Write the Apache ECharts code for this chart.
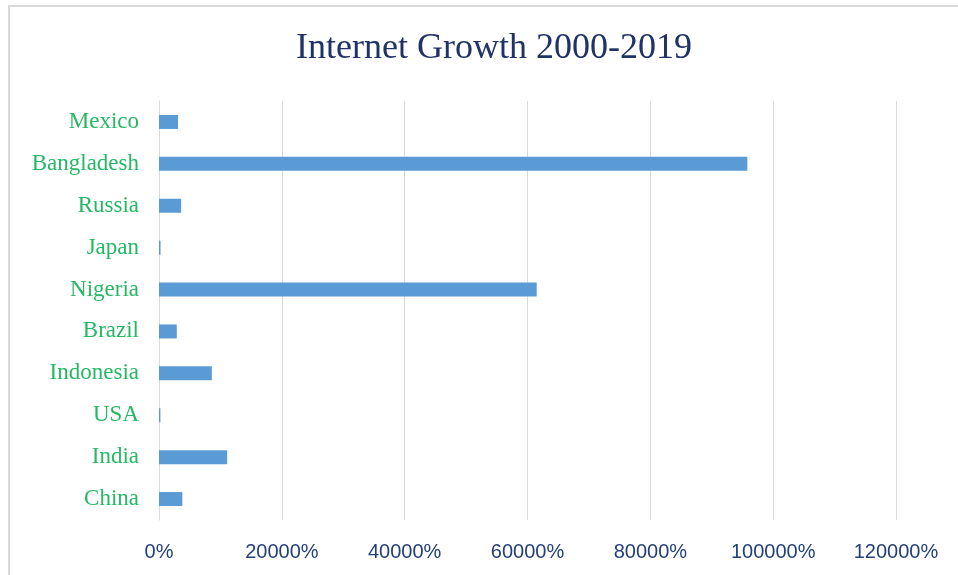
<!DOCTYPE html>
<html>
<head>
<meta charset="utf-8">
<style>html,body{margin:0;padding:0;background:#fff;}#c{width:958px;height:575px;}</style>
<script src="https://cdn.jsdelivr.net/npm/echarts@6/dist/echarts.min.js"></script>
</head>
<body>
<div id="c"></div>
<script>
const categories = ["China", "India", "USA", "Indonesia", "Brazil", "Nigeria", "Japan", "Russia", "Bangladesh", "Mexico"];
const growth = [3800, 11100, 230, 8600, 2900, 61500, 250, 3600, 95800, 3100];
const tickMin = 0, tickMax = 120000, tickStep = 20000;

const chart = echarts.init(document.getElementById('c'));
chart.setOption({
  animation: false,
  backgroundColor: '#fff',
  graphic: [{
    type: 'rect', shape: { x: 9, y: 6, width: 1000, height: 1000 },
    style: { fill: 'none', stroke: '#d9d9d9', lineWidth: 2 }, silent: true
  }],
  title: {
    text: 'Internet Growth 2000-2019',
    left: 489, top: 26, textAlign: 'center',
    textStyle: { fontFamily: 'Liberation Serif', fontSize: 36, fontWeight: 'normal', color: '#1F3366' }
  },
  grid: { left: 159, right: 62, top: 101, bottom: 55, containLabel: false },
  xAxis: {
    type: 'value', min: tickMin, max: tickMax, interval: tickStep,
    axisLine: { show: false }, axisTick: { show: false },
    splitLine: { show: true, lineStyle: { color: '#d9d9d9', width: 1 } },
    axisLabel: { formatter: function (v) { return String(v) + '%'; }, margin: 22, fontFamily: 'Liberation Sans', fontSize: 20, color: '#24407A' }
  },
  yAxis: {
    type: 'category', data: categories,
    axisLine: { show: true, lineStyle: { color: '#d9d9d9', width: 1 } },
    axisTick: { show: false },
    axisLabel: { margin: 20, fontFamily: 'Liberation Serif', fontSize: 23, color: '#26B864', padding: [8, 0, 0, 0] }
  },
  series: [{
    type: 'bar', data: growth, barWidth: 14,
    itemStyle: { color: '#5B9BD5' }
  }]
});
</script>
</body>
</html>
